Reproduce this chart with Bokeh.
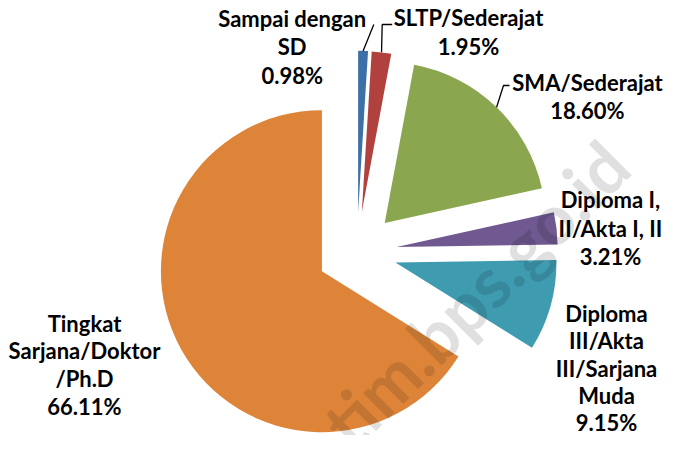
import math
from bokeh.plotting import figure
from bokeh.models import Range1d
from bokeh.core.properties import value
from bokeh.embed import file_html
from bokeh.resources import INLINE

# ---- data ----
categories = [
    "Sampai dengan SD",
    "SLTP/Sederajat",
    "SMA/Sederajat",
    "Diploma I, II/Akta I, II",
    "Diploma III/Akta III/Sarjana Muda",
    "Tingkat Sarjana/Doktor/Ph.D",
]
label_lines = [
    ["Sampai dengan", "SD"],
    ["SLTP/Sederajat"],
    ["SMA/Sederajat"],
    ["Diploma I,", "II/Akta I, II"],
    ["Diploma", "III/Akta", "III/Sarjana", "Muda"],
    ["Tingkat", "Sarjana/Doktor", "/Ph.D"],
]
percent = [0.98, 1.95, 18.60, 3.21, 9.15, 66.11]
colors = ["#3E70A8", "#B0413E", "#8AA64E", "#705891", "#3F9BB0", "#DD8439"]
watermark = "jatim.bps.go.id"

# ---- layout (pixel coordinates, origin at top-left of the picture) ----
W, HH = 664, 435
H = 451
def sy(y):
    return H - y

CX, CY = 356.4, 251.3       # common pie centre
R = 161                      # radius
EXPLODE = 40                 # explosion distance
FONT = "Lato"
FSIZE = "22px"

# label anchors: centre x, first line y, line spacing
label_pos = [
    (291.7, 17.5, 28.5),
    (468.0, 16.5, 29.5),
    (587.0, 82.0, 28.0),
    (610.0, 199.0, 28.5),
    (606.0, 313.0, 27.3),
    (84.0, 322.5, 27.8),
]
# leader elbows (None = no leader)
leader_pts = [
    [(373.3, 24.0)],
    [(381.7, 24.0), (391.7, 24.0)],
    [(503.0, 85.0), (509.0, 85.0)],
    None, None, None,
]

p = figure(width=W, height=HH, output_backend="svg", toolbar_location=None,
           x_range=Range1d(0, W), y_range=Range1d(H - HH, H),
           min_border=0, outline_line_color=None, background_fill_color="white")
p.axis.visible = False
p.grid.visible = False

total = sum(percent)
cum = 0.0
xs, ys, starts, ends = [], [], [], []
rims = []
for v in percent:
    a0 = cum / total * 2 * math.pi
    cum += v
    a1 = cum / total * 2 * math.pi
    mid = (a0 + a1) / 2
    ox = EXPLODE * math.sin(mid)
    oy = -EXPLODE * math.cos(mid)
    cx, cy = CX + ox, CY + oy
    xs.append(cx)
    ys.append(sy(cy))
    starts.append(math.pi / 2 - a0)
    ends.append(math.pi / 2 - a1)
    rims.append((cx + R * math.sin(mid), cy - R * math.cos(mid)))

p.wedge(x=xs, y=ys, radius=R, start_angle=starts, end_angle=ends,
        direction="clock", fill_color=colors, line_color=None)

# leaders
for rim, pts in zip(rims, leader_pts):
    if pts is None:
        continue
    lx = [rim[0]] + [q[0] for q in pts]
    ly = [sy(rim[1])] + [sy(q[1]) for q in pts]
    p.line(lx, ly, line_color="black", line_width=1.3)

# labels
tx, ty, tt = [], [], []
for lines, v, (lx, ly, sp) in zip(label_lines, percent, label_pos):
    for i, t in enumerate(lines + [f"{v:.2f}%"]):
        tx.append(lx)
        ty.append(sy(ly + i * sp))
        tt.append(t)
p.text(x=tx, y=ty, text=tt, text_align="center", text_baseline="middle",
       text_font=value(FONT), text_font_style="bold", text_font_size=FSIZE,
       text_color="black")

# watermark (cut by the bottom edge, as in the original)
p.text(x=[456], y=[sy(312)], text=[watermark], angle=math.radians(45),
       text_align="center", text_baseline="middle", text_font=value(FONT),
       text_font_style="bold", text_font_size="70px", text_color="black",
       text_alpha=0.12)

open("out.html", "w").write(file_html(p, INLINE))
